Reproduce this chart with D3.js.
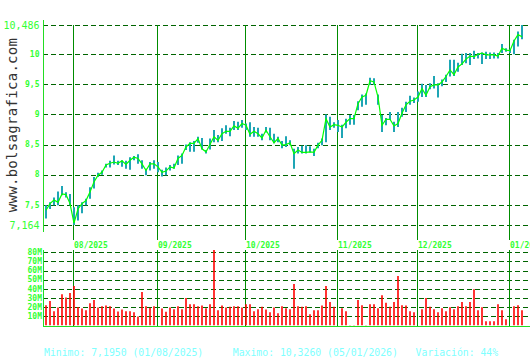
<!DOCTYPE html>
<html>
<head>
<meta charset="utf-8">
<script src="https://cdn.jsdelivr.net/npm/d3@7"></script>
<style>
  body { margin: 0; background: #fff; }
  svg { display: block; }
  text { font-family: "DejaVu Sans Mono", "Liberation Mono", monospace; }
</style>
</head>
<body>
<div id="container"></div>
<script>
// daily closes, highs and lows (one per trading day, 23/07/2025 .. 07/01/2026)
var closes = [7.41,7.52,7.58,7.54,7.68,7.67,7.52,7.195,7.43,7.52,
  7.57,7.71,7.88,7.99,8.04,8.16,8.19,8.21,8.19,8.23,
  8.17,8.24,8.29,8.27,8.18,8.07,8.18,8.18,8.13,8.04,
  8.06,8.13,8.11,8.27,8.32,8.46,8.52,8.52,8.60,8.43,
  8.38,8.50,8.63,8.57,8.68,8.72,8.72,8.81,8.77,8.85,
  8.82,8.67,8.72,8.68,8.61,8.74,8.63,8.53,8.60,8.49,
  8.50,8.53,8.35,8.41,8.37,8.37,8.38,8.37,8.49,8.57,
  8.93,8.79,8.83,8.82,8.79,8.87,8.93,8.93,9.18,9.29,
  9.32,9.56,9.54,9.29,8.82,8.92,8.92,8.81,8.85,9.02,
  9.16,9.22,9.24,9.29,9.43,9.32,9.46,9.49,9.49,9.54,
  9.63,9.74,9.66,9.79,9.84,9.92,9.97,9.96,10.00,10.02,
  9.99,9.99,9.99,9.97,10.10,10.07,10.06,10.22,10.326,10.29];
var highs = [7.49,7.54,7.62,7.72,7.81,7.71,7.68,7.46,7.49,7.54,
  7.60,7.79,7.96,8.03,8.07,8.18,8.23,8.32,8.23,8.24,
  8.23,8.29,8.31,8.34,8.24,8.10,8.21,8.24,8.21,8.08,
  8.12,8.16,8.18,8.32,8.35,8.50,8.54,8.56,8.63,8.61,
  8.41,8.60,8.74,8.66,8.77,8.82,8.78,8.89,8.88,8.91,
  8.85,8.87,8.79,8.78,8.68,8.79,8.78,8.68,8.63,8.56,
  8.64,8.57,8.43,8.46,8.48,8.49,8.47,8.43,8.53,8.60,
  9.00,8.96,8.87,8.91,8.83,8.93,8.99,8.99,9.22,9.33,
  9.35,9.61,9.60,9.33,8.99,8.94,9.04,8.88,9.04,9.11,
  9.21,9.31,9.28,9.38,9.51,9.49,9.52,9.64,9.52,9.58,
  9.66,9.91,9.91,9.86,10.01,10.02,10.02,10.06,10.02,10.03,
  10.04,10.03,10.03,10.02,10.17,10.10,10.08,10.24,10.38,10.486];
var lows = [7.27,7.43,7.49,7.49,7.66,7.62,7.49,7.164,7.24,7.36,
  7.49,7.60,7.77,7.96,8.00,8.12,8.12,8.17,8.16,8.13,
  8.10,8.08,8.24,8.18,8.10,7.99,8.07,8.10,8.04,7.97,
  7.99,8.07,8.10,8.16,8.18,8.41,8.38,8.38,8.53,8.42,
  8.35,8.42,8.54,8.54,8.56,8.68,8.64,8.74,8.74,8.78,
  8.74,8.63,8.63,8.63,8.57,8.70,8.57,8.52,8.54,8.44,
  8.46,8.49,8.10,8.35,8.35,8.35,8.37,8.31,8.44,8.49,
  8.54,8.74,8.78,8.71,8.61,8.77,8.83,8.83,9.07,9.13,
  9.16,9.49,9.49,9.16,8.71,8.82,8.91,8.71,8.79,8.96,
  9.04,9.16,9.19,9.21,9.29,9.29,9.42,9.43,9.28,9.47,
  9.54,9.63,9.64,9.71,9.82,9.85,9.82,9.92,9.93,9.84,
  9.92,9.92,9.93,9.93,10.02,10.04,10.02,10.00,10.13,10.25];
// daily volume, millions
var volumes = [22,26.5,15.5,19.5,34,30.5,35.3,43,20,18.4,
  16.6,24.3,27.6,19.5,21,21.7,21,18.4,15.1,17.3,
  15.5,15.5,14.4,9.6,36.4,21,19.2,21,0,18.4,
  14.8,19.5,17.7,21,17.7,29.8,23.2,23.2,21,21.7,
  18.8,23.2,82.6,16.6,21.7,19.5,20.3,21,21,19.5,
  23.2,23.2,15.5,17.7,20.3,17.3,14.4,19.5,13.3,21,
  18.8,17.7,45.2,21,20.3,21,12.2,16.6,16.6,21.7,
  43,25.4,20.3,0,18.8,15.5,0.3,0.3,27.6,22.1,
  0.3,23.2,23.2,18.8,33,24.7,20.3,25.4,54,22.1,
  21.7,15.5,14.4,0,17.7,29.8,20.3,17.7,14.4,18.8,
  15.5,19.9,17.7,21,25.4,21,25.4,39.6,16.6,19.9,
  4.5,4.5,4.5,23.2,16.6,6.7,0,21,22.1,16.6];

// first trading day of each month (index) and its label
var monthIdx = [7, 28, 50, 73, 93, 116];
var monthLabels = ['08/2025','09/2025','10/2025','11/2025','12/2025','01/2026'];

var priceTicks = [7.164, 7.5, 8, 8.5, 9, 9.5, 10, 10.486];
var priceTickLabels = ['7,164','7,5','8','8,5','9','9,5','10','10,486'];
var volTicks = [10, 20, 30, 40, 50, 60, 70, 80];

var footer = 'Minimo: 7,1950 (01/08/2025)     Maximo: 10,3260 (05/01/2026)   Variación: 44%';

var W = 530, H = 360;
var green = '#33ff33', axisGreen = '#22dd22', monthGreen = '#008c00', gridGreen = '#006400';

var svg = d3.select('#container').append('svg')
  .attr('width', W).attr('height', H);

// scales
var x = d3.scaleLinear().domain([0, closes.length - 1]).range([45.5, 521.5]);
var y = d3.scaleLinear().domain([7.164, 10.486]).range([225, 25]);
var yv = d3.scaleLinear().domain([0, 80]).range([325.3, 252.3]);

// watermark
svg.append('text')
  .attr('transform', 'translate(17,125) rotate(-90)')
  .attr('text-anchor', 'middle')
  .style('font-size', '14px')
  .style('letter-spacing', '0.3px')
  .attr('fill', '#333')
  .text('www.bolsagrafica.com');

// price grid
svg.append('g').selectAll('line')
  .data(priceTicks)
  .enter().append('line')
  .attr('x1', 43).attr('x2', W)
  .attr('y1', d => Math.round(y(d)) + 0.5).attr('y2', d => Math.round(y(d)) + 0.5)
  .attr('stroke', gridGreen).attr('stroke-width', 1)
  .attr('stroke-dasharray', '5,3');

// volume grid
svg.append('g').selectAll('line')
  .data(volTicks)
  .enter().append('line')
  .attr('x1', 43).attr('x2', W)
  .attr('y1', d => Math.round(yv(d)) + 0.5).attr('y2', d => Math.round(yv(d)) + 0.5)
  .attr('stroke', gridGreen).attr('stroke-width', 1)
  .attr('stroke-dasharray', '5,3');

// month lines, price panel and volume panel
var mg = svg.append('g');
mg.selectAll('.mp')
  .data(monthIdx)
  .enter().append('line')
  .attr('x1', d => Math.floor(x(d)) + 0.5).attr('x2', d => Math.floor(x(d)) + 0.5)
  .attr('y1', y(10.486)).attr('y2', 240)
  .attr('stroke', monthGreen).attr('stroke-width', 1);
mg.selectAll('.mv')
  .data(monthIdx)
  .enter().append('line')
  .attr('x1', d => Math.floor(x(d)) + 0.5).attr('x2', d => Math.floor(x(d)) + 0.5)
  .attr('y1', 250).attr('y2', 326)
  .attr('stroke', monthGreen).attr('stroke-width', 1);

// month labels
svg.append('g').selectAll('text')
  .data(monthIdx)
  .enter().append('text')
  .attr('x', d => Math.floor(x(d)) + 1)
  .attr('y', 247.5)
  .attr('fill', green)
  .style('font-size', '8px').style('font-weight', 'bold')
  .text((d, i) => monthLabels[i]);

// high-low bars
svg.append('g').selectAll('line')
  .data(closes)
  .enter().append('line')
  .attr('x1', (d, i) => Math.floor(x(i)) + 1).attr('x2', (d, i) => Math.floor(x(i)) + 1)
  .attr('y1', (d, i) => y(highs[i])).attr('y2', (d, i) => y(lows[i]))
  .attr('stroke', '#1ea5b5').attr('stroke-width', 2);

// close line
svg.append('path')
  .datum(closes)
  .attr('fill', 'none')
  .attr('stroke', '#00ff00')
  .attr('stroke-width', 1.2)
  .attr('d', d3.line().x((d, i) => x(i) + 0.5).y(d => y(d)));

// volume bars
svg.append('g').selectAll('line')
  .data(volumes)
  .enter().append('line')
  .attr('x1', (d, i) => Math.floor(x(i)) + 1).attr('x2', (d, i) => Math.floor(x(i)) + 1)
  .attr('y1', yv(0)).attr('y2', d => yv(d))
  .attr('stroke', '#ff0000').attr('stroke-width', d => d > 0 ? 1.6 : 0);

// axes lines
svg.append('line').attr('x1', 43.5).attr('x2', 43.5).attr('y1', 20).attr('y2', 232)
  .attr('stroke', axisGreen).attr('stroke-width', 1);
svg.append('line').attr('x1', 43.5).attr('x2', 43.5).attr('y1', 250).attr('y2', 327)
  .attr('stroke', axisGreen).attr('stroke-width', 1);
svg.append('line').attr('x1', 43).attr('x2', W).attr('y1', 326.5).attr('y2', 326.5)
  .attr('stroke', axisGreen).attr('stroke-width', 1);

// price labels
svg.append('g').selectAll('text')
  .data(priceTicks)
  .enter().append('text')
  .attr('x', 39.5)
  .attr('y', d => y(d))
  .attr('dy', '0.35em')
  .attr('text-anchor', 'end')
  .attr('fill', green)
  .style('font-size', (d, i) => (i === 0 || i === priceTicks.length - 1) ? '10px' : '8px')
  .style('font-weight', (d, i) => (i === 0 || i === priceTicks.length - 1) ? 'normal' : 'bold')
  .text((d, i) => priceTickLabels[i]);

// volume labels
svg.append('g').selectAll('text')
  .data(volTicks)
  .enter().append('text')
  .attr('x', 42)
  .attr('y', d => yv(d))
  .attr('dy', '0.35em')
  .attr('text-anchor', 'end')
  .attr('fill', green)
  .style('font-size', '8px').style('font-weight', 'bold')
  .text(d => d + 'M');

// footer
svg.append('text')
  .attr('x', 44)
  .attr('y', 355.5)
  .attr('fill', '#80ffff')
  .style('font-size', '9.8px')
  .style('white-space', 'pre')
  .text(footer);
</script>
</body>
</html>
